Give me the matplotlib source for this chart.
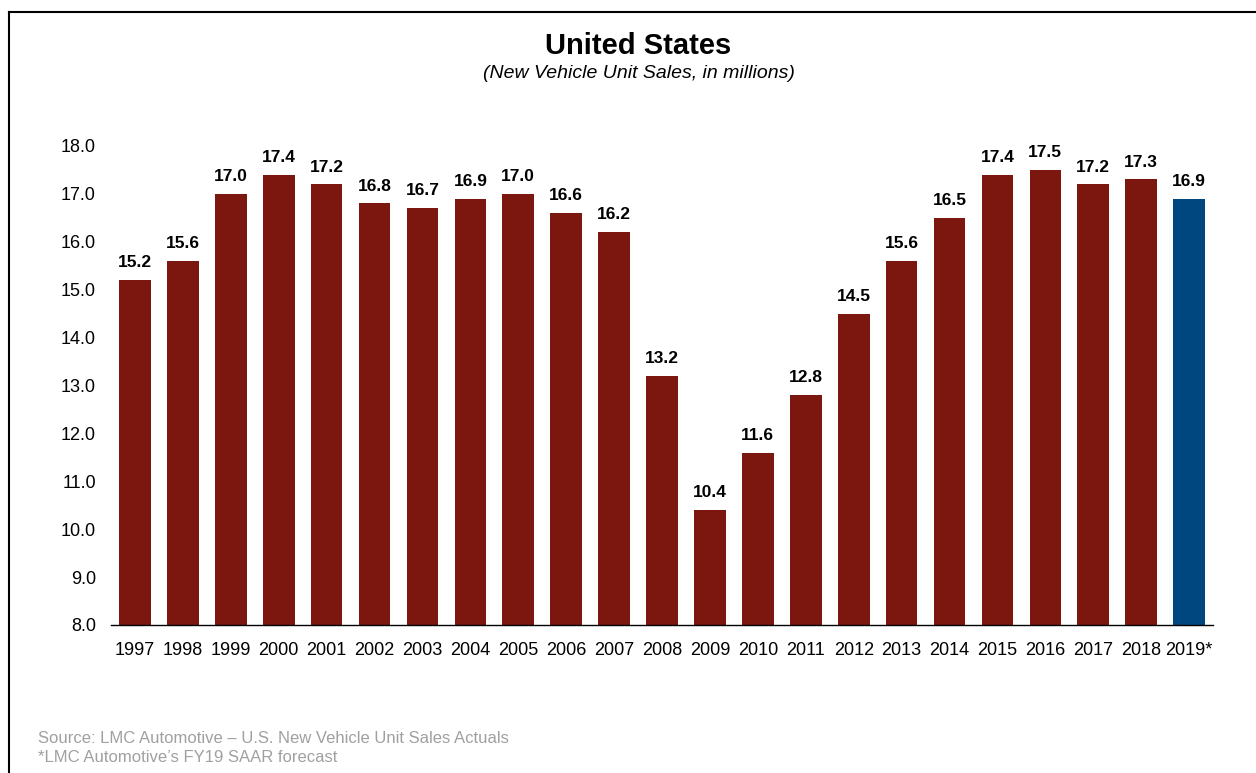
import matplotlib.pyplot as plt
from matplotlib.lines import Line2D

plt.rcParams['font.family'] = ['Liberation Sans', 'DejaVu Sans']

years = ['1997', '1998', '1999', '2000', '2001', '2002', '2003', '2004',
         '2005', '2006', '2007', '2008', '2009', '2010', '2011', '2012',
         '2013', '2014', '2015', '2016', '2017', '2018', '2019*']
sales = [15.2, 15.6, 17.0, 17.4, 17.2, 16.8, 16.7, 16.9,
         17.0, 16.6, 16.2, 13.2, 10.4, 11.6, 12.8, 14.5,
         15.6, 16.5, 17.4, 17.5, 17.2, 17.3, 16.9]
yticks = [8.0, 9.0, 10.0, 11.0, 12.0, 13.0, 14.0, 15.0, 16.0, 17.0, 18.0]

red = '#7b170f'
blue = '#00477f'
colors = [red] * (len(years) - 1) + [blue]

fig = plt.figure(figsize=(12.56, 7.73), dpi=100)
ax = fig.add_axes([0.0884, 0.1915, 0.8774, 0.6197])

x = range(len(years))
bars = ax.bar(x, [v - 8.0 for v in sales], bottom=8.0, width=0.66, color=colors)

for xi, v in zip(x, sales):
    ax.annotate('%.1f' % v, (xi, v), xytext=(0, 7), textcoords='offset points',
                ha='center', va='bottom', fontsize=12.5, fontweight='bold')

ax.set_xlim(-0.5, len(years) - 0.5)
ax.set_ylim(8.0, 18.0)
ax.set_yticks(yticks)
ax.set_yticklabels(['%.1f' % t for t in yticks], fontsize=13)
ax.set_xticks(list(x))
ax.set_xticklabels(years, fontsize=13)
ax.tick_params(axis='both', length=0)
ax.tick_params(axis='y', pad=11)
ax.tick_params(axis='x', pad=12)
for side in ['top', 'right', 'left']:
    ax.spines[side].set_visible(False)
ax.spines['bottom'].set_linewidth(1.0)
ax.spines['bottom'].set_color('black')

fig.text(0.508, 0.941, 'United States', ha='center', va='center',
         fontsize=21, fontweight='bold')
fig.text(0.509, 0.905, '(New Vehicle Unit Sales, in millions)', ha='center',
         va='center', fontsize=14, style='italic')

fig.text(0.030, 0.045, 'Source: LMC Automotive \u2013 U.S. New Vehicle Unit Sales Actuals',
         ha='left', va='center', fontsize=12, color='#a0a0a0')
fig.text(0.030, 0.020, "*LMC Automotive\u2019s FY19 SAAR forecast",
         ha='left', va='center', fontsize=12, color='#a0a0a0')

# frame around the slide
fig.add_artist(Line2D([0.0072, 1.0], [0.984, 0.984], transform=fig.transFigure,
                      color='black', linewidth=1.5))
fig.add_artist(Line2D([0.0072, 0.0072], [0.0, 0.984], transform=fig.transFigure,
                      color='black', linewidth=1.5))

fig.savefig('out.png', dpi=100)
